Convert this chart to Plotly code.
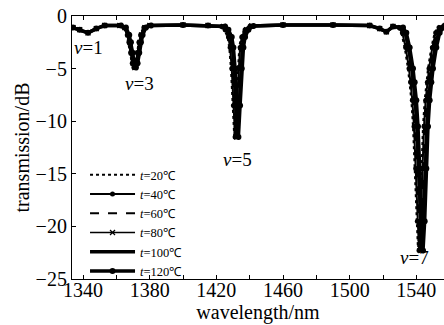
import plotly.graph_objects as go

# ---- data ----
temperatures = ["20", "40", "60", "80", "100", "120"]

# shared transmission profile (dB), same shape for all temperatures (dips shift slightly)
transmission_db = [-1.1, -1.3, -1.6, -1.2, -0.9,
                   -0.9, -1.1, -1.8, -2.5, -3.5, -4.5, -4.9, -4.5, -3.5, -2.5, -1.8, -1.1, -0.9,
                   -0.85, -0.9,
                   -1.0, -1.3, -2.0, -3.0, -5.0, -8.5, -11.5, -8.5, -5.0, -3.0, -2.0, -1.3, -0.95,
                   -0.85, -0.85, -0.9, -1.2, -1.5, -1.0,
                   -1.1, -1.6, -3.0, -5.0, -6.3, -8.0, -10.5, -14.5, -19.5, -22.3, -19.5, -14.5,
                   -10.5, -8.0, -6.3, -5.0, -3.0, -1.6, -1.1, -0.9,
                   -0.9]

wl_t20 = [1334, 1338, 1343, 1348, 1353,
          1361.25, 1364.25, 1366.25, 1367.25, 1368.25, 1369.25, 1370.25, 1371.25, 1372.25, 1373.25, 1374.25, 1376.25, 1379.25,
          1400, 1415,
          1422.75, 1424.75, 1426.75, 1427.75, 1428.75, 1429.75, 1430.75, 1431.75, 1432.75, 1433.75, 1434.75, 1436.75, 1439.75,
          1460, 1490, 1512, 1518, 1522, 1526,
          1529, 1531, 1533, 1535, 1536, 1537, 1538, 1539, 1540, 1541, 1542, 1543, 1544, 1545, 1546, 1547, 1549, 1551, 1553, 1556,
          1562]
wl_t40 = [1334, 1338, 1343, 1348, 1353,
          1361.55, 1364.55, 1366.55, 1367.55, 1368.55, 1369.55, 1370.55, 1371.55, 1372.55, 1373.55, 1374.55, 1376.55, 1379.55,
          1400, 1415,
          1423.25, 1425.25, 1427.25, 1428.25, 1429.25, 1430.25, 1431.25, 1432.25, 1433.25, 1434.25, 1435.25, 1437.25, 1440.25,
          1460, 1490, 1512, 1518, 1522, 1526,
          1529.6, 1531.6, 1533.6, 1535.6, 1536.6, 1537.6, 1538.6, 1539.6, 1540.6, 1541.6, 1542.6, 1543.6, 1544.6, 1545.6,
          1546.6, 1547.6, 1549.6, 1551.6, 1553.6, 1556.6,
          1562]
wl_t60 = [1334, 1338, 1343, 1348, 1353,
          1361.85, 1364.85, 1366.85, 1367.85, 1368.85, 1369.85, 1370.85, 1371.85, 1372.85, 1373.85, 1374.85, 1376.85, 1379.85,
          1400, 1415,
          1423.75, 1425.75, 1427.75, 1428.75, 1429.75, 1430.75, 1431.75, 1432.75, 1433.75, 1434.75, 1435.75, 1437.75, 1440.75,
          1460, 1490, 1512, 1518, 1522, 1526,
          1530.2, 1532.2, 1534.2, 1536.2, 1537.2, 1538.2, 1539.2, 1540.2, 1541.2, 1542.2, 1543.2, 1544.2, 1545.2, 1546.2,
          1547.2, 1548.2, 1550.2, 1552.2, 1554.2, 1557.2,
          1562]
wl_t80 = [1334, 1338, 1343, 1348, 1353,
          1362.15, 1365.15, 1367.15, 1368.15, 1369.15, 1370.15, 1371.15, 1372.15, 1373.15, 1374.15, 1375.15, 1377.15, 1380.15,
          1400, 1415,
          1424.25, 1426.25, 1428.25, 1429.25, 1430.25, 1431.25, 1432.25, 1433.25, 1434.25, 1435.25, 1436.25, 1438.25, 1441.25,
          1460, 1490, 1512, 1518, 1522, 1526,
          1530.8, 1532.8, 1534.8, 1536.8, 1537.8, 1538.8, 1539.8, 1540.8, 1541.8, 1542.8, 1543.8, 1544.8, 1545.8, 1546.8,
          1547.8, 1548.8, 1550.8, 1552.8, 1554.8, 1557.8,
          1562]
wl_t100 = [1334, 1338, 1343, 1348, 1353,
           1362.45, 1365.45, 1367.45, 1368.45, 1369.45, 1370.45, 1371.45, 1372.45, 1373.45, 1374.45, 1375.45, 1377.45, 1380.45,
           1400, 1415,
           1424.75, 1426.75, 1428.75, 1429.75, 1430.75, 1431.75, 1432.75, 1433.75, 1434.75, 1435.75, 1436.75, 1438.75, 1441.75,
           1460, 1490, 1512, 1518, 1522, 1526,
           1531.4, 1533.4, 1535.4, 1537.4, 1538.4, 1539.4, 1540.4, 1541.4, 1542.4, 1543.4, 1544.4, 1545.4, 1546.4, 1547.4,
           1548.4, 1549.4, 1551.4, 1553.4, 1555.4, 1558.4,
           1562]
wl_t120 = [1334, 1338, 1343, 1348, 1353,
           1362.75, 1365.75, 1367.75, 1368.75, 1369.75, 1370.75, 1371.75, 1372.75, 1373.75, 1374.75, 1375.75, 1377.75, 1380.75,
           1400, 1415,
           1425.25, 1427.25, 1429.25, 1430.25, 1431.25, 1432.25, 1433.25, 1434.25, 1435.25, 1436.25, 1437.25, 1439.25, 1442.25,
           1460, 1490, 1512, 1518, 1522, 1526,
           1532, 1534, 1536, 1538, 1539, 1540, 1541, 1542, 1543, 1544, 1545, 1546, 1547, 1548, 1549, 1550, 1552, 1554, 1556, 1559,
           1562]

wavelengths = [wl_t20, wl_t40, wl_t60, wl_t80, wl_t100, wl_t120]

x_tick_vals = [1340, 1360, 1380, 1400, 1420, 1440, 1460, 1480, 1500, 1520, 1540]
x_tick_text = ["1340", "", "1380", "", "1420", "", "1460", "", "1500", "", "1540"]
y_tick_vals = [0, -5, -10, -15, -20, -25]

mode_labels = ["1", "3", "5", "7"]
mode_x = [1343.5, 1374.0, 1432.5, 1539.0]
mode_y = [-3.0, -6.4, -13.6, -23.0]

# ---- styles ----
styles = [
    dict(mode="lines", line=dict(dash="dot", width=2)),
    dict(mode="lines+markers", line=dict(width=2), marker=dict(symbol="circle", size=5)),
    dict(mode="lines", line=dict(dash="dash", width=2)),
    dict(mode="lines+markers", line=dict(width=1.5), marker=dict(symbol="x-thin", size=5, line=dict(width=1.2, color="black"))),
    dict(mode="lines", line=dict(width=3.5)),
    dict(mode="lines+markers", line=dict(width=3.5), marker=dict(symbol="circle", size=6)),
]

FONT = "Liberation Serif"

fig = go.Figure()
for t, wl, st in zip(temperatures, wavelengths, styles):
    line = dict(color="black", **st["line"])
    kw = dict(x=wl, y=transmission_db, mode=st["mode"], line=line,
              name="<i>t</i>=" + t + "℃")
    if "marker" in st:
        kw["marker"] = dict(color="black", **st["marker"])
    fig.add_trace(go.Scatter(**kw))

for lab, mx, my in zip(mode_labels, mode_x, mode_y):
    fig.add_annotation(x=mx, y=my, xref="x", yref="y", text="<i>v</i>=" + lab,
                       showarrow=False, font=dict(family=FONT, size=19, color="black"))

fig.update_layout(
    width=444, height=325,
    margin=dict(l=72, r=0, t=16, b=46, autoexpand=False),
    paper_bgcolor="white", plot_bgcolor="white",
    font=dict(family=FONT, size=20, color="black"),
    showlegend=True,
    legend=dict(x=0.035, y=0.452, xanchor="left", yanchor="top",
                bgcolor="rgba(0,0,0,0)", font=dict(family=FONT, size=12.5, color="black"),
                tracegroupgap=0, itemwidth=45),
    xaxis=dict(range=[1333.4, 1556.6], tickmode="array", tickvals=x_tick_vals, ticktext=x_tick_text,
               ticks="inside", ticklen=4, tickcolor="black", showline=True, linecolor="black", linewidth=1.2,
               mirror="ticks", showgrid=False, zeroline=False, automargin=False,
               ticklabelstandoff=-7,
               title=dict(text="wavelength/nm", standoff=4, font=dict(size=20)),
               tickfont=dict(size=20)),
    yaxis=dict(range=[-25, 0], tickmode="array", tickvals=y_tick_vals,
               ticks="inside", ticklen=4, tickcolor="black", showline=True, linecolor="black", linewidth=1.2,
               showgrid=False, zeroline=False, automargin=False,
               title=dict(text="transmission/dB", standoff=0, font=dict(size=20)),
               tickfont=dict(size=20)),
)

fig.write_html("out.html", config={"displayModeBar": False},
               post_script="document.body.style.margin='0';document.body.style.overflow='hidden';")
